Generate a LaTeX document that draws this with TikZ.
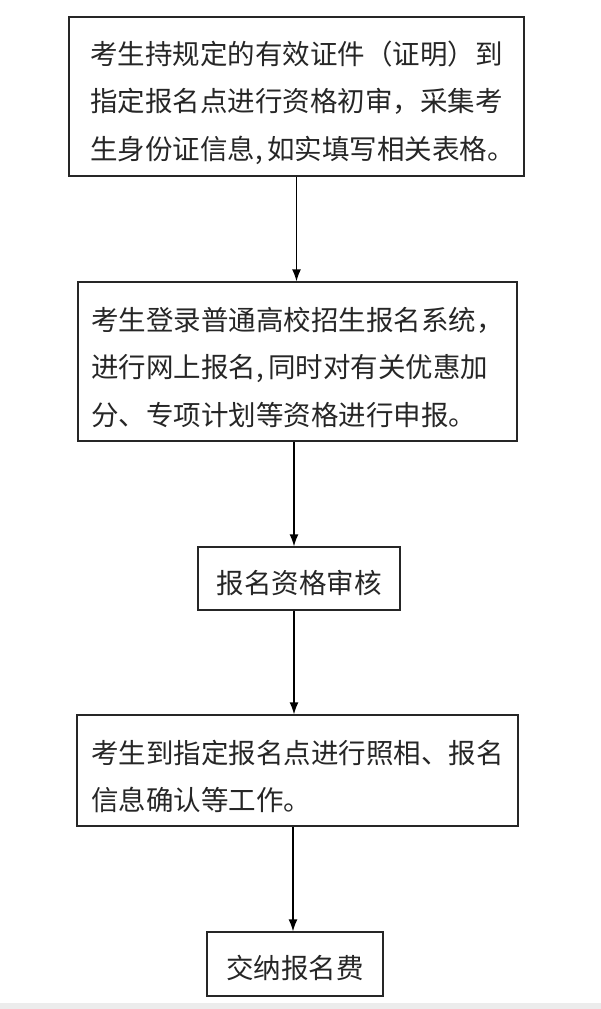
\documentclass[tikz,border=0pt]{standalone}
\usepackage{fontspec}
\newfontfamily\cjk{Noto Sans CJK SC}
\usetikzlibrary{arrows.meta}

\begin{document}
\begin{tikzpicture}[x=1pt,y=-1pt,every path/.style={>={Latex[length=12pt,width=9pt]}},
	stepbox/.style={draw=black!85,line width=1.3pt,inner sep=0pt},
	steptext/.style={inner sep=0pt,text=black!85,font=\cjk\fontsize{27.5pt}{47.5pt}\selectfont,align=left}]
		\useasboundingbox (0,0) rectangle (601,1009);
		
		% draw grey strip at the bottom
		\fill[gray!15] (0,1003) rectangle (601,1009);
		
		% draw the five boxes
		\node (shenhe) at (296.5,96.5) [stepbox,minimum width=455pt,minimum height=159pt] {};
		\node (wangbao) at (297.5,361.5) [stepbox,minimum width=439pt,minimum height=159pt] {};
		\node (zige) at (299,578.5) [stepbox,minimum width=202pt,minimum height=63pt] {};
		\node (queren) at (297.5,770.5) [stepbox,minimum width=441pt,minimum height=111pt] {};
		\node (jiaofei) at (295,964) [stepbox,minimum width=176pt,minimum height=64pt] {};
		
		% text inside the boxes, set a little low as in the original
		\node (shenhe-t) at ([yshift=-6pt]shenhe) [steptext,text width=413pt]
			{考生持规定的有效证件（证明）到\\指定报名点进行资格初审，采集考\\生身份证信息,\,如实填写相关表格。};
		\node (wangbao-t) at ([yshift=-6pt]wangbao) [steptext,text width=413pt]
			{考生登录普通高校招生报名系统，\\进行网上报名,\,同时对有关优惠加\\分、专项计划等资格进行申报。};
		\node (zige-t) at ([yshift=-4pt]zige) [steptext] {报名资格审核};
		\node (queren-t) at ([yshift=-6pt]queren) [steptext,text width=413pt]
			{考生到指定报名点进行照相、报名\\信息确认等工作。};
		\node (jiaofei-t) at ([yshift=-4pt]jiaofei) [steptext] {交纳报名费};
		
		% draw arrows between the boxes
		\draw[->,line width=1.3pt] (shenhe.south) to (shenhe.south |- wangbao.north);
		\draw[->,line width=1.3pt] ([xshift=-3.5pt]wangbao.south) to ([xshift=-3.5pt]wangbao.south |- zige.north);
		\draw[->,line width=1.3pt] ([xshift=-5pt]zige.south) to ([xshift=-5pt]zige.south |- queren.north);
		\draw[->,line width=1.3pt] ([xshift=-4.5pt]queren.south) to ([xshift=-4.5pt]queren.south |- jiaofei.north);
	\end{tikzpicture}
\end{document}
